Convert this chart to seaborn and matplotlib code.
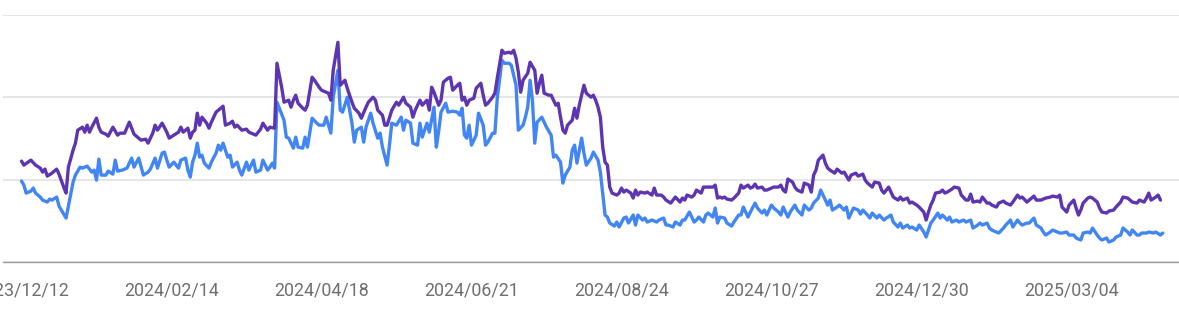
import numpy as np
import pandas as pd
import matplotlib
matplotlib.use("Agg")
import matplotlib.pyplot as plt
import matplotlib.dates as mdates
import seaborn as sns

# daily series, days counted from START (arbitrary units)
START = "2023-12-12"

# impressions (purple)
imp_day = [0, 1, 4, 6, 8, 9, 10, 11, 13, 15, 16, 18, 19, 20, 22, 23, 24, 26, 27, 28,
           29, 30, 32, 33, 34, 36, 37, 39, 41, 42, 44, 46, 48, 49, 51, 53, 54, 56, 57, 58,
           60, 62, 63, 65, 67, 68, 69, 71, 72, 73, 74, 75, 76, 77, 79, 80, 81, 83, 85, 86,
           87, 89, 90, 91, 92, 94, 96, 97, 98, 100, 102, 103, 105, 106, 108, 109, 111, 112, 114, 115,
           116, 117, 118, 120, 121, 122, 124, 125, 127, 128, 130, 131, 132, 133, 135, 136, 138, 139, 141, 142,
           144, 145, 147, 148, 150, 151, 152, 154, 155, 156, 158, 160, 161, 163, 164, 166, 167, 168, 170, 171,
           173, 174, 175, 176, 178, 179, 180, 182, 183, 184, 186, 187, 188, 189, 190, 191, 193, 194, 196, 197,
           198, 199, 201, 202, 203, 205, 206, 208, 209, 210, 211, 212, 213, 214, 216, 217, 219, 220, 221, 222,
           223, 225, 226, 228, 229, 230, 231, 232, 233, 235, 236, 237, 238, 240, 241, 243, 244, 245, 246, 247,
           248, 249, 250, 251, 252, 254, 255, 256, 257, 258, 260, 261, 262, 263, 264, 266, 267, 269, 270, 271,
           273, 274, 275, 277, 278, 279, 281, 282, 283, 284, 286, 287, 288, 290, 291, 293, 295, 296, 297, 298,
           299, 300, 301, 303, 304, 306, 307, 308, 310, 311, 312, 313, 314, 316, 317, 318, 320, 321, 323, 324,
           325, 326, 327, 329, 330, 331, 333, 334, 336, 337, 338, 339, 340, 342, 343, 344, 345, 347, 348, 350,
           351, 353, 354, 356, 357, 359, 360, 361, 363, 364, 366, 367, 368, 370, 371, 372, 374, 375, 376, 378,
           379, 380, 382, 383, 385, 386, 387, 388, 389, 390, 392, 393, 394, 395, 397, 398, 400, 401, 403, 404,
           405, 406, 408, 409, 410, 412, 413, 414, 416, 417, 419, 420, 422, 423, 425, 426, 427, 429, 430, 432,
           433, 435, 436, 437, 439, 440, 442, 443, 444, 446, 447, 449, 450, 451, 452, 453, 455, 456, 457, 459,
           460, 461, 463, 464, 466, 467, 469, 470, 472, 473, 474, 476, 477, 479, 480, 481, 482, 484, 485, 486]
imp_val = [101, 97, 102, 97, 94, 90, 93, 86, 89, 93, 88, 75, 69, 95, 112, 119, 132, 135, 130, 137,
           130, 135, 144, 135, 130, 128, 126, 135, 127, 129, 129, 140, 128, 126, 122, 123, 119, 129, 137, 132,
           139, 130, 124, 127, 130, 135, 130, 134, 124, 130, 132, 149, 137, 145, 139, 134, 140, 150, 154, 156,
           137, 139, 141, 135, 137, 132, 133, 130, 129, 127, 133, 139, 132, 135, 134, 199, 175, 160, 162, 155,
           162, 167, 159, 154, 152, 157, 185, 182, 175, 172, 170, 169, 162, 192, 220, 177, 182, 174, 160, 154,
           149, 144, 155, 160, 165, 162, 152, 147, 137, 137, 152, 160, 157, 165, 159, 155, 145, 152, 162, 157,
           162, 152, 175, 170, 157, 162, 180, 184, 185, 172, 177, 179, 162, 165, 157, 162, 164, 174, 179, 167,
           157, 159, 165, 169, 184, 212, 209, 210, 209, 212, 204, 190, 170, 182, 189, 200, 192, 169, 179, 187,
           169, 167, 167, 157, 159, 145, 132, 129, 137, 142, 154, 144, 157, 177, 169, 165, 167, 162, 155, 145,
           115, 100, 97, 75, 69, 67, 69, 74, 70, 72, 69, 64, 72, 67, 70, 69, 70, 67, 74, 67,
           67, 65, 62, 59, 62, 65, 60, 64, 62, 67, 65, 67, 72, 69, 75, 75, 75, 77, 64, 65,
           64, 65, 63, 62, 64, 69, 77, 74, 77, 74, 75, 78, 74, 75, 72, 72, 74, 75, 75, 77,
           72, 70, 83, 80, 75, 72, 70, 79, 77, 70, 87, 92, 102, 107, 99, 94, 92, 89, 93, 89,
           90, 82, 87, 89, 86, 88, 82, 79, 75, 80, 79, 72, 69, 75, 70, 65, 62, 65, 62, 64,
           59, 60, 57, 55, 50, 42, 50, 57, 62, 69, 70, 72, 69, 70, 73, 75, 74, 67, 62, 62,
           68, 60, 61, 60, 65, 59, 59, 57, 55, 59, 61, 59, 57, 60, 67, 64, 65, 60, 62, 66,
           62, 62, 63, 64, 65, 66, 65, 67, 55, 50, 57, 62, 54, 47, 52, 59, 64, 65, 64, 60,
           54, 50, 49, 51, 52, 55, 60, 65, 64, 62, 60, 59, 62, 60, 64, 69, 62, 65, 67, 62]

# clicks (blue)
clk_day = [0, 1, 2, 4, 5, 6, 8, 9, 11, 12, 13, 15, 16, 18, 19, 20, 22, 23, 25, 26,
           28, 30, 31, 32, 33, 34, 36, 37, 39, 40, 41, 43, 45, 47, 48, 50, 52, 54, 55, 57,
           58, 60, 61, 62, 63, 65, 67, 68, 70, 71, 72, 73, 74, 75, 76, 77, 78, 80, 81, 83,
           84, 85, 86, 88, 89, 90, 92, 93, 94, 96, 97, 99, 100, 102, 103, 105, 106, 107, 108, 109,
           112, 113, 114, 116, 117, 118, 120, 121, 122, 124, 126, 127, 129, 130, 132, 133, 135, 136, 137, 139,
           141, 142, 143, 145, 146, 147, 149, 150, 152, 153, 154, 156, 157, 158, 160, 162, 163, 164, 166, 167,
           169, 170, 171, 173, 174, 176, 177, 178, 179, 181, 182, 184, 186, 187, 188, 189, 190, 191, 192, 194,
           195, 197, 198, 199, 201, 202, 203, 205, 206, 208, 209, 211, 212, 214, 215, 216, 217, 218, 219, 220,
           222, 224, 226, 227, 228, 230, 231, 232, 234, 235, 236, 237, 239, 240, 241, 243, 244, 246, 247, 248,
           249, 250, 251, 253, 254, 255, 257, 258, 259, 261, 262, 263, 265, 266, 267, 269, 271, 272, 274, 275,
           276, 278, 279, 281, 282, 283, 285, 287, 288, 289, 291, 292, 293, 295, 296, 297, 298, 300, 301, 303,
           304, 306, 307, 308, 310, 311, 313, 314, 316, 317, 318, 320, 321, 323, 324, 325, 327, 328, 330, 331,
           333, 334, 336, 337, 338, 340, 341, 342, 344, 345, 346, 348, 349, 351, 352, 353, 355, 357, 358, 359,
           361, 362, 363, 365, 366, 368, 369, 371, 372, 374, 375, 376, 378, 379, 380, 382, 383, 385, 386, 387,
           388, 389, 391, 392, 393, 395, 396, 397, 399, 400, 402, 403, 405, 406, 408, 409, 410, 412, 413, 414,
           416, 417, 419, 420, 422, 423, 425, 426, 427, 429, 430, 432, 433, 435, 436, 437, 439, 440, 442, 443,
           444, 446, 447, 449, 450, 452, 453, 455, 456, 457, 459, 460, 461, 463, 464, 466, 467, 469, 470, 472,
           473, 474, 476, 477, 478, 480, 481, 483, 484, 486, 487]
clk_val = [81, 77, 69, 71, 74, 69, 65, 62, 60, 63, 62, 65, 56, 48, 44, 56, 80, 87, 95, 94,
           96, 90, 92, 82, 103, 87, 87, 91, 88, 102, 91, 92, 94, 104, 95, 104, 87, 90, 93, 104,
           94, 109, 110, 102, 95, 100, 94, 102, 104, 92, 85, 100, 107, 119, 105, 107, 99, 94, 100, 109,
           117, 112, 119, 105, 107, 95, 100, 92, 87, 100, 92, 102, 90, 92, 102, 92, 95, 99, 94, 160,
           142, 125, 124, 114, 125, 115, 114, 125, 115, 144, 139, 137, 137, 145, 129, 165, 192, 152, 150, 165,
           139, 120, 132, 135, 120, 135, 149, 139, 124, 129, 115, 97, 117, 139, 137, 145, 132, 142, 139, 119,
           117, 139, 125, 139, 130, 155, 115, 131, 150, 159, 150, 151, 150, 147, 154, 127, 124, 137, 117, 127,
           149, 137, 117, 120, 129, 129, 164, 202, 199, 199, 197, 177, 132, 137, 145, 155, 182, 162, 119, 140,
           145, 135, 127, 105, 107, 100, 79, 87, 95, 112, 117, 99, 124, 109, 97, 104, 110, 102, 90, 69,
           47, 45, 39, 36, 40, 35, 44, 45, 39, 47, 37, 47, 42, 44, 40, 42, 40, 42, 44, 37,
           37, 35, 40, 37, 42, 42, 50, 40, 42, 45, 40, 47, 49, 45, 54, 39, 45, 44, 39, 36,
           40, 47, 47, 55, 45, 50, 59, 54, 49, 52, 47, 57, 54, 50, 47, 55, 45, 50, 57, 52,
           47, 57, 52, 54, 59, 64, 72, 67, 57, 62, 52, 55, 57, 52, 55, 44, 54, 52, 48, 52,
           47, 44, 49, 44, 47, 42, 44, 47, 40, 35, 39, 34, 37, 34, 35, 32, 37, 30, 25, 32,
           39, 42, 49, 44, 47, 42, 45, 40, 42, 40, 42, 40, 42, 34, 37, 39, 37, 39, 34, 32,
           30, 29, 34, 37, 42, 35, 42, 39, 37, 39, 39, 44, 37, 34, 30, 27, 30, 32, 30, 29,
           29, 30, 27, 27, 24, 22, 29, 30, 29, 34, 27, 24, 22, 24, 20, 22, 25, 27, 34, 30,
           27, 32, 27, 27, 29, 29, 30, 29, 30, 27, 29]

tick_every = 64
n_ticks = 8
y_max = 247.3

start = pd.Timestamp(START)
imp = pd.DataFrame({"date": start + pd.to_timedelta(imp_day, unit="D"), "value": imp_val})
clk = pd.DataFrame({"date": start + pd.to_timedelta(clk_day, unit="D"), "value": clk_val})

sns.set_theme(style="white")
plt.rcParams["font.family"] = ["Roboto", "DejaVu Sans"]

fig = plt.figure(figsize=(11.79, 3.13), dpi=100)
ax = fig.add_axes([3 / 1179, 51 / 313, 1 - 3 / 1179, 247 / 313])

sns.lineplot(data=clk, x="date", y="value", ax=ax, color="#4285f4", linewidth=2.4, estimator=None)
sns.lineplot(data=imp, x="date", y="value", ax=ax, color="#5e35b1", linewidth=2.4, estimator=None)

ax.set_xlim(start - pd.Timedelta(days=7.9), start + pd.Timedelta(days=493.9))
ax.set_ylim(0, y_max)
ax.set_yticks(np.linspace(0, y_max, 4))
ax.set_yticklabels([])
ax.grid(axis="y", color="#e6e6e6", linewidth=1.4)
ax.set_axisbelow(True)

ax.set_xticks([start + pd.Timedelta(days=tick_every * k) for k in range(n_ticks)])
ax.xaxis.set_major_formatter(mdates.DateFormatter("%Y/%m/%d"))
ax.tick_params(axis="x", length=0, pad=14, labelsize=12.8, labelcolor="#6f6f6f")
ax.tick_params(axis="y", length=0)
ax.set_xlabel("")
ax.set_ylabel("")

for side in ["top", "left", "right"]:
    ax.spines[side].set_visible(False)
ax.spines["bottom"].set_color("#9e9e9e")
ax.spines["bottom"].set_linewidth(1.0)

fig.savefig("out.png", dpi=100)
